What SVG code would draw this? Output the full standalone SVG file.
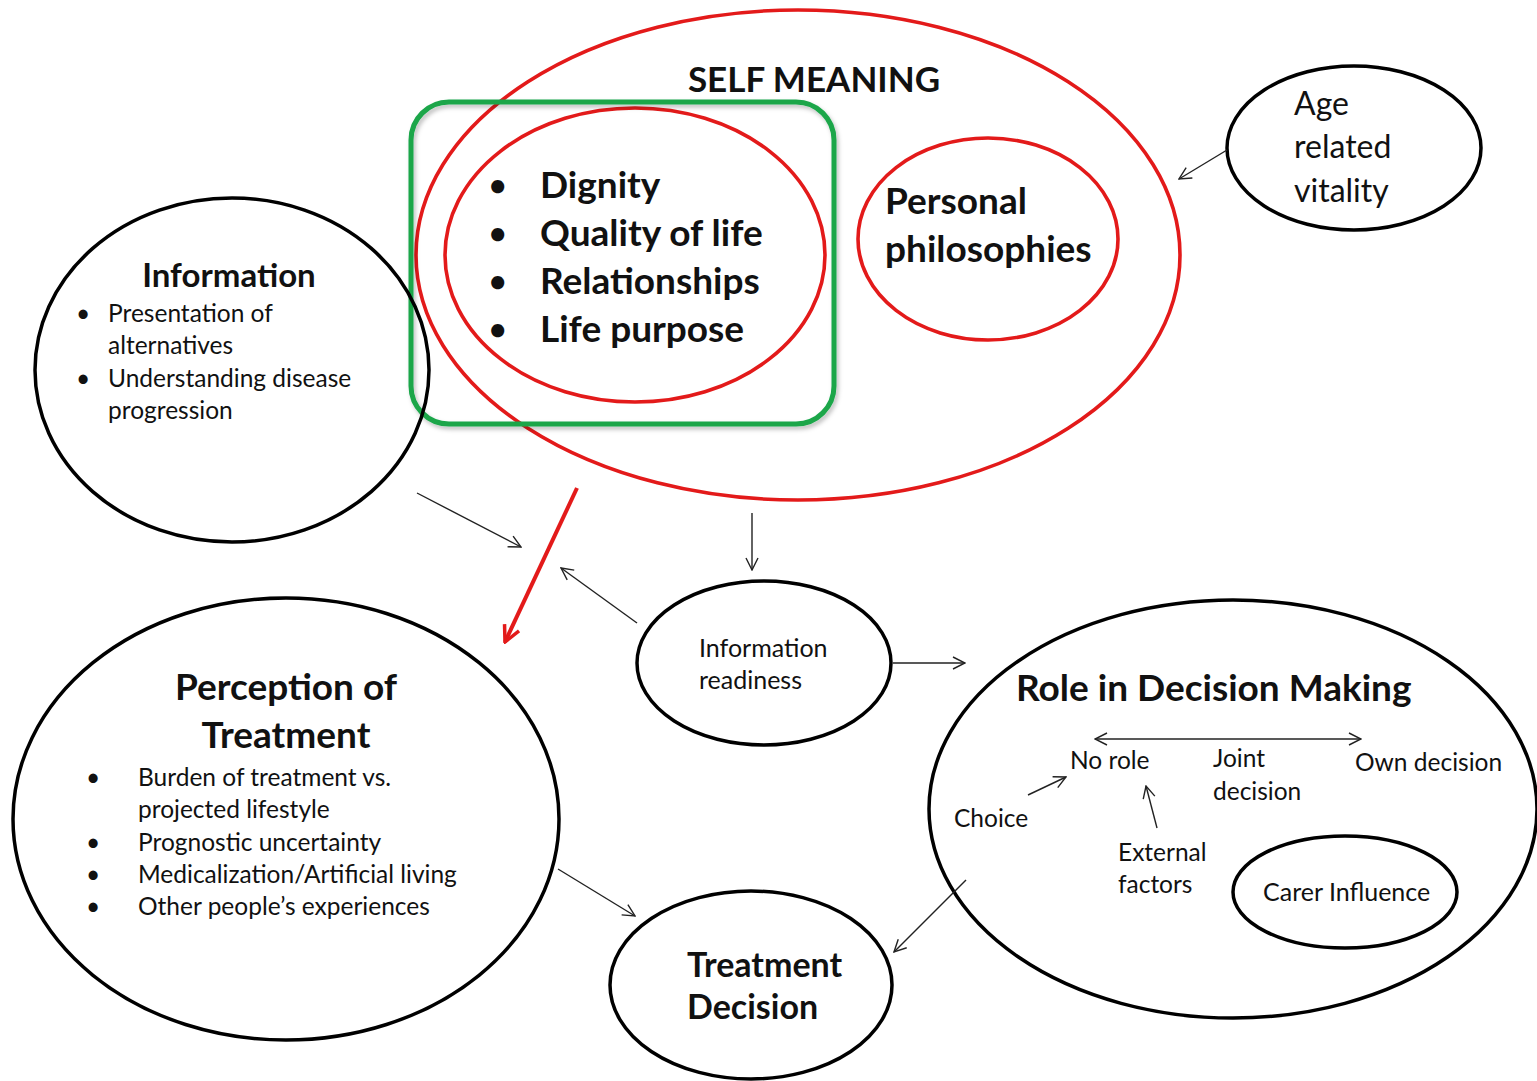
<svg xmlns="http://www.w3.org/2000/svg" width="1537" height="1081" viewBox="0 0 1537 1081">
  <style>
    .bk { fill: none; stroke: #000; stroke-width: 3.5; }
    .rd { fill: none; stroke: #e31a1a; stroke-width: 3.6; }
    .gr { fill: none; stroke: #1aa64a; stroke-width: 5; }
    .ln { fill: none; stroke: #222; stroke-width: 1.4; }
    .t { font-family: Lato, "Open Sans", "Liberation Sans", sans-serif; fill: #111; }
    .b { font-weight: bold; }
  </style>
  <defs>
    <marker id="ah" viewBox="0 0 14 14" refX="13" refY="7" markerWidth="14" markerHeight="14" markerUnits="userSpaceOnUse" orient="auto">
      <path d="M1,1 L13,7 L1,13" fill="none" stroke="#222" stroke-width="1.4"/>
    </marker>
    <marker id="ahs" viewBox="0 0 14 14" refX="1" refY="7" markerWidth="14" markerHeight="14" markerUnits="userSpaceOnUse" orient="auto">
      <path d="M13,1 L1,7 L13,13" fill="none" stroke="#222" stroke-width="1.4"/>
    </marker>
    <marker id="ahr" viewBox="0 0 20 20" refX="18" refY="10" markerWidth="20" markerHeight="20" markerUnits="userSpaceOnUse" orient="auto">
      <path d="M2,2 L18,10 L2,18" fill="none" stroke="#e31a1a" stroke-width="3.5"/>
    </marker>
    <filter id="sh" x="-10%" y="-10%" width="120%" height="120%">
      <feDropShadow dx="2" dy="3" stdDeviation="2" flood-color="#000" flood-opacity="0.25"/>
    </filter>
  </defs>

  <!-- Self meaning cluster -->
  <g id="self-meaning">
    <ellipse class="rd" cx="798" cy="255" rx="382" ry="245"/>
    <text class="t b" x="814" y="92" font-size="35" text-anchor="middle">SELF MEANING</text>
  </g>

  <g id="core-values">
    <ellipse class="rd" cx="635" cy="255" rx="190" ry="147"/>
    <g class="t b" font-size="30">
      <text x="489" y="196">•</text>
      <text x="489" y="244">•</text>
      <text x="489" y="292">•</text>
      <text x="489" y="340">•</text>
    </g>
    <g class="t b" font-size="37">
      <text x="540" y="198">Dignity</text>
      <text x="540" y="246">Quality of life</text>
      <text x="540" y="294">Relationships</text>
      <text x="540" y="342">Life purpose</text>
    </g>
  </g>

  <g id="highlight">
    <rect class="gr" x="411" y="102" width="423" height="322" rx="38" filter="url(#sh)"/>
  </g>

  <g id="personal-philosophies">
    <ellipse class="rd" cx="988" cy="239" rx="130" ry="101"/>
    <text class="t b" x="885" y="214" font-size="37">Personal</text>
    <text class="t b" x="885" y="262" font-size="37">philosophies</text>
  </g>

  <g id="age-vitality">
    <ellipse class="bk" cx="1354" cy="148" rx="127" ry="82"/>
    <g class="t" font-size="32">
      <text x="1294" y="115">Age</text>
      <text x="1294" y="158">related</text>
      <text x="1294" y="202">vitality</text>
    </g>
  </g>

  <g id="information">
    <ellipse class="bk" cx="232" cy="370" rx="197" ry="172"/>
    <text class="t b" x="229" y="287" font-size="33" text-anchor="middle">Information</text>
    <g class="t" font-size="24.5">
      <text x="76" y="322">•</text><text x="108" y="322">Presentation of</text>
      <text x="108" y="354">alternatives</text>
      <text x="76" y="387">•</text><text x="108" y="387">Understanding disease</text>
      <text x="108" y="419">progression</text>
    </g>
  </g>

  <g id="information-readiness">
    <ellipse class="bk" cx="764" cy="663" rx="127" ry="82"/>
    <g class="t" font-size="25">
      <text x="699" y="657">Information</text>
      <text x="699" y="689">readiness</text>
    </g>
  </g>

  <g id="perception-of-treatment">
    <ellipse class="bk" cx="286" cy="819" rx="273" ry="221"/>
    <text class="t b" x="286" y="700" font-size="37" text-anchor="middle">Perception of</text>
    <text class="t b" x="286" y="748" font-size="37" text-anchor="middle">Treatment</text>
    <g class="t" font-size="24.5">
      <text x="86" y="786">•</text><text x="138" y="786">Burden of treatment vs.</text>
      <text x="138" y="818">projected lifestyle</text>
      <text x="86" y="851">•</text><text x="138" y="851">Prognostic uncertainty</text>
      <text x="86" y="883">•</text><text x="138" y="883">Medicalization/Artificial living</text>
      <text x="86" y="915">•</text><text x="138" y="915">Other people’s experiences</text>
    </g>
  </g>

  <g id="treatment-decision">
    <ellipse class="bk" cx="751" cy="985" rx="141" ry="94"/>
    <text class="t b" x="687" y="977" font-size="34">Treatment</text>
    <text class="t b" x="687" y="1019" font-size="34">Decision</text>
  </g>

  <g id="role-in-decision-making">
    <ellipse class="bk" cx="1233" cy="809" rx="304" ry="209"/>
    <text class="t b" x="1016" y="701" font-size="37">Role in Decision Making</text>
    <g class="t" font-size="24.5">
      <text x="1070" y="769">No role</text>
      <text x="1213" y="767">Joint</text>
      <text x="1213" y="800">decision</text>
      <text x="1355" y="771">Own decision</text>
      <text x="954" y="827">Choice</text>
      <text x="1118" y="861">External</text>
      <text x="1118" y="893">factors</text>
    </g>
    <line class="ln" x1="1095" y1="739" x2="1361" y2="739" marker-start="url(#ahs)" marker-end="url(#ah)"/>
    <line class="ln" x1="1028" y1="795" x2="1066" y2="777" marker-end="url(#ah)"/>
    <line class="ln" x1="1157" y1="828" x2="1146" y2="786" marker-end="url(#ah)"/>
  </g>

  <g id="carer-influence">
    <ellipse class="bk" cx="1345" cy="892" rx="112" ry="56"/>
    <text class="t" x="1263" y="901" font-size="25">Carer Influence</text>
  </g>

  <!-- Connectors -->
  <g id="connectors">
    <line class="ln" x1="1227" y1="150" x2="1179" y2="179" marker-end="url(#ah)"/>
    <line class="ln" x1="417" y1="493" x2="521" y2="547" marker-end="url(#ah)"/>
    <line class="ln" x1="752" y1="513" x2="752" y2="570" marker-end="url(#ah)"/>
    <line class="ln" x1="637" y1="623" x2="561" y2="568" marker-end="url(#ah)"/>
    <line class="ln" x1="893" y1="663" x2="965" y2="663" marker-end="url(#ah)"/>
    <line class="ln" x1="558" y1="869" x2="635" y2="916" marker-end="url(#ah)"/>
    <line class="ln" x1="966" y1="880" x2="894" y2="952" marker-end="url(#ah)"/>
    <line fill="none" stroke="#e31a1a" stroke-width="4" x1="577" y1="488" x2="505" y2="642" marker-end="url(#ahr)"/>
  </g>
</svg>
